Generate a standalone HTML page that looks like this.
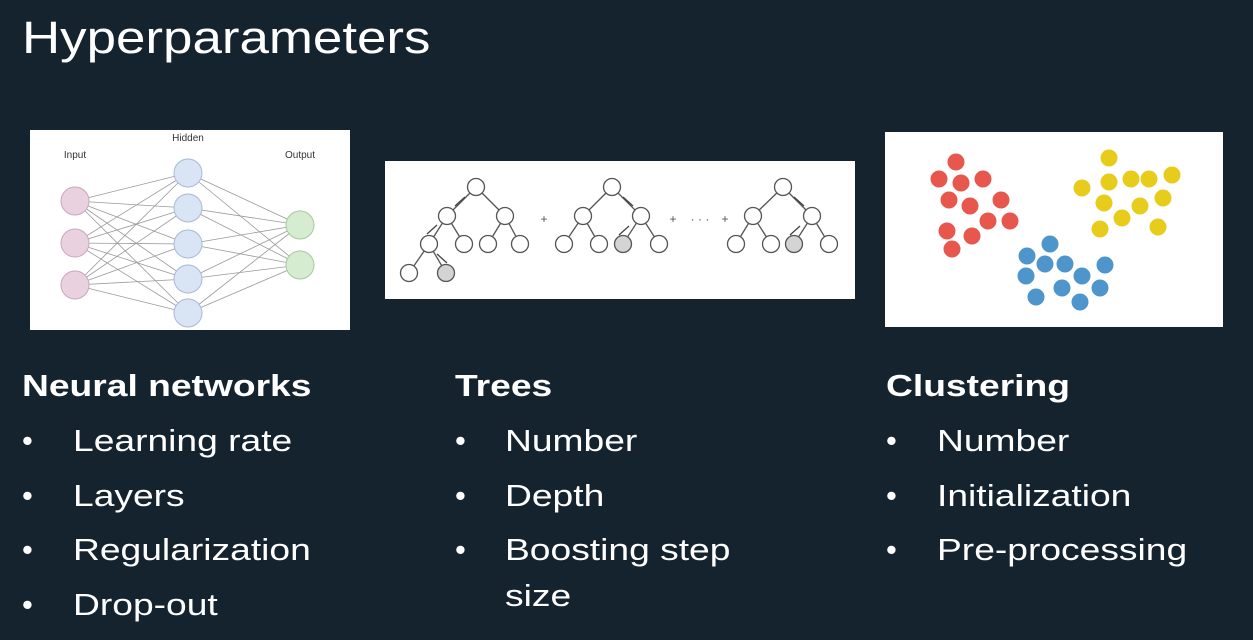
<!DOCTYPE html>
<html><head><meta charset="utf-8"><style>
body{margin:0;width:1253px;height:640px;background:#15232f;overflow:hidden;font-family:"Liberation Sans",sans-serif;color:#fff;position:relative}
.t{position:absolute;white-space:nowrap;transform-origin:0 0;transform:scaleX(1.2)}
h1{position:absolute;left:22px;top:12px;margin:0;font-weight:normal;font-size:45px;transform-origin:0 0;transform:scaleX(1.175)}
.h{font-weight:bold;font-size:31px}
.b{font-size:31px}
.dot{transform:none}
svg{position:absolute;left:0;top:0}
</style></head><body>
<h1>Hyperparameters</h1>
<svg width="1253" height="640">
<rect x="30" y="130" width="320" height="200" fill="#fff"/>
<g id="nn"></g>
<rect x="385" y="161" width="470" height="138" fill="#fff"/>
<g id="tr"></g>
<rect x="885" y="132" width="338" height="195" fill="#fff"/>
<g id="cl"></g>
</svg>
<div class="t h" style="left:22px;top:368px">Neural networks</div>
<div class="t h" style="left:455px;top:368px">Trees</div>
<div class="t h" style="left:886px;top:368px">Clustering</div>
<div id="lists"></div>
<script>
const NS="http://www.w3.org/2000/svg";
function mk(p,tag,a){const e=document.createElementNS(NS,tag);for(const k in a)e.setAttribute(k,a[k]);p.appendChild(e);return e;}
const nn=document.getElementById('nn');
const inp=[201,243,285],hid=[173,208,244,279,313],out=[225,265];
inp.forEach(a=>hid.forEach(b=>mk(nn,'line',{x1:75,y1:a,x2:188,y2:b,stroke:'#999','stroke-width':0.8})));
hid.forEach(a=>out.forEach(b=>mk(nn,'line',{x1:188,y1:a,x2:300,y2:b,stroke:'#999','stroke-width':0.8})));
inp.forEach(y=>mk(nn,'circle',{cx:75,cy:y,r:14,fill:'#ead1e0',stroke:'#c8a8bd'}));
hid.forEach(y=>mk(nn,'circle',{cx:188,cy:y,r:14,fill:'#d9e4f5',stroke:'#a9b9d6'}));
out.forEach(y=>mk(nn,'circle',{cx:300,cy:y,r:14,fill:'#d6ecd0',stroke:'#a8c8a0'}));
[['Input',75,158],['Hidden',188,141],['Output',300,158]].forEach(l=>{const t=mk(nn,'text',{x:l[1],y:l[2],'font-size':10,'text-anchor':'middle',fill:'#333','font-family':'Liberation Sans'});t.textContent=l[0];});
const tr=document.getElementById('tr');
function tree(nodes,edges,gray){edges.forEach(e=>mk(tr,'line',{x1:nodes[e[0]][0],y1:nodes[e[0]][1],x2:nodes[e[1]][0],y2:nodes[e[1]][1],stroke:'#555','stroke-width':1.3}));
nodes.forEach((n,i)=>mk(tr,'circle',{cx:n[0],cy:n[1],r:8.5,fill:gray.includes(i)?'#d4d4d4':'#fff',stroke:'#555','stroke-width':1.3}));}
tree([[476,187],[447,216],[505,216],[429,244],[464,244],[488,244],[520,244],[409,273],[446,273]],[[0,1],[0,2],[1,3],[1,4],[2,5],[2,6],[3,7],[3,8]],[8]);
tree([[612,187],[583,216],[641,216],[564,244],[599,244],[623,244],[659,244]],[[0,1],[0,2],[1,3],[1,4],[2,5],[2,6]],[5]);
tree([[783,187],[753,216],[812,216],[736,244],[771,244],[794,244],[829,244]],[[0,1],[0,2],[1,3],[1,4],[2,5],[2,6]],[5]);
[['+',544],['+',673],['· · ·',700],['+',725]].forEach(p=>{const t=mk(tr,'text',{x:p[1],y:223,'font-size':12,'text-anchor':'middle',fill:'#555'});t.textContent=p[0];});
[[465,197,455,206],[437,225,427,234],[437,254,447,263],[623,197,633,206],[629,226,619,235],[794,197,804,206],[800,226,790,235]].forEach(a=>{mk(tr,'line',{x1:a[0],y1:a[1],x2:a[2],y2:a[3],stroke:'#444','stroke-width':1.3});});
const cl=document.getElementById('cl');
const red=[[956,162],[939,179],[961,183],[983,179],[949,200],[970,206],[1001,200],[988,221],[1010,221],[947,231],[972,236],[952,249]];
const yel=[[1109,158],[1082,188],[1109,182],[1131,179],[1149,179],[1172,175],[1104,203],[1140,206],[1163,198],[1122,218],[1100,229],[1158,227]];
const blu=[[1050,244],[1027,256],[1045,264],[1065,264],[1105,265],[1026,276],[1082,276],[1062,288],[1100,288],[1036,297],[1080,302]];
[[red,'#e8574d'],[yel,'#e8cc1c'],[blu,'#4e95cc']].forEach(g=>g[0].forEach(p=>mk(cl,'circle',{cx:p[0],cy:p[1],r:8.5,fill:g[1]})));
const lists=[[22,73,['Learning rate','Layers','Regularization','Drop-out']],[455,505,['Number','Depth','Boosting step','size']],[886,937,['Number','Initialization','Pre-processing']]];
const L=document.getElementById('lists');
lists.forEach(c=>c[2].forEach((s,i)=>{
 const y=423+i*54.5;
 if(s!=='size'){const d=document.createElement('div');d.className='t b dot';d.style.left=c[0]+'px';d.style.top=y+'px';d.textContent='•';
 
 L.appendChild(d);}
 const e=document.createElement('div');e.className='t b';e.style.left=c[1]+'px';e.style.top=(s==='size'?y-9:y)+'px';e.textContent=s;
 
 L.appendChild(e);
}));
</script>
</body></html>
